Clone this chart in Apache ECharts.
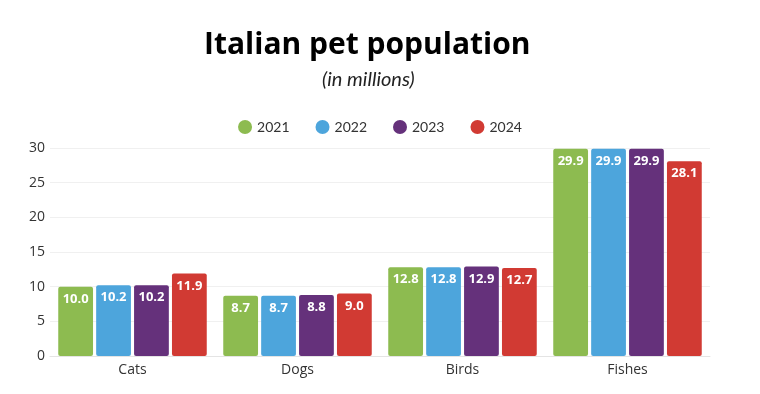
<!DOCTYPE html>
<html><head><meta charset="utf-8">
<script src="https://cdn.jsdelivr.net/npm/echarts@6/dist/echarts.min.js"></script>
<style>html,body{margin:0;padding:0;background:#fff}#c{width:760px;height:394px}</style>
</head><body><div id="c"></div>
<script>
const categories = ['Cats', 'Dogs', 'Birds', 'Fishes'];
const years = ['2021', '2022', '2023', '2024'];
const v2021 = [10.0, 8.7, 12.8, 29.9];
const v2022 = [10.2, 8.7, 12.8, 29.9];
const v2023 = [10.2, 8.8, 12.9, 29.9];
const v2024 = [11.9, 9.0, 12.7, 28.1];
const yTicks = [0, 5, 10, 15, 20, 25, 30];
const colors = ['#8DBB50', '#4DA5DC', '#65317B', '#D13A33'];

const chart = echarts.init(document.getElementById('c'));
const all = [v2021, v2022, v2023, v2024];
chart.setOption({
  animation: false,
  title: [{
    text: 'Italian pet population', left: 199, top: 25,
    textStyle: {fontFamily: 'Open Sans', fontWeight: 'bold', fontSize: 30, color: '#000'}
  }, {
    text: '(in millions)', left: 317, top: 65,
    textStyle: {fontFamily: 'Lato', fontStyle: 'italic', fontWeight: 'normal', fontSize: 20, color: '#222'}
  }],
  legend: {
    top: 115, left: 'center', icon: 'circle', itemWidth: 14, itemHeight: 14, itemGap: 26,
    textStyle: {fontFamily: 'Lato', fontSize: 14, color: '#333'},
    data: years
  },
  grid: {left: 50, right: 50, top: 148, bottom: 38},
  xAxis: {
    type: 'category', data: categories,
    axisLine: {lineStyle: {color: '#e4e4e4'}}, axisTick: {show: false},
    axisLabel: {fontFamily: 'Open Sans', fontSize: 14, color: '#333', margin: 7}
  },
  yAxis: {
    type: 'value', min: 0, max: 30, interval: 5,
    axisLabel: {fontFamily: 'Open Sans', fontSize: 14, color: '#333', margin: 5,
      formatter: v => yTicks.includes(v) ? String(v) : ''},
    splitLine: {lineStyle: {color: '#f0f0f0'}}
  },
  series: all.map((d, i) => ({
    name: years[i], type: 'bar', data: d, barGap: '9%', barCategoryGap: '10%',
    itemStyle: {color: colors[i], borderRadius: 2},
    label: {show: true, position: 'insideTop', distance: 6, color: '#fff', fontWeight: 'bold',
      fontFamily: 'Open Sans', fontSize: 13, formatter: p => p.value.toFixed(1)}
  }))
});
</script></body></html>
